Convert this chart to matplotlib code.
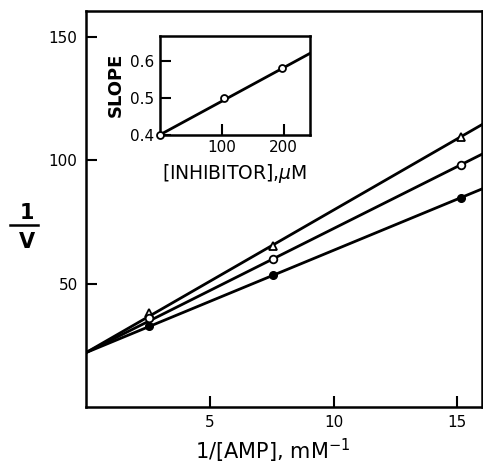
import numpy as np
import matplotlib
matplotlib.use("Agg")
import matplotlib.pyplot as plt

plt.rcParams['font.family'] = ['DejaVu Sans']

# main plot data: 1/[AMP] vs 1/v
amp_inv = [2.55, 7.55, 15.15]
v_inv_tri = [38.0, 65.2, 109.5]
v_inv_open = [36.0, 60.0, 98.2]
v_inv_filled = [32.8, 53.6, 84.8]

# fitted lines at x=0 and x=16
line_x = [0, 16]
line_tri = [22.0, 114.5]
line_open = [22.0, 102.5]
line_filled = [22.0, 88.4]

# inset data: slope vs inhibitor
inhib = [0, 103, 198]
slope = [0.40, 0.50, 0.58]
inset_line_x = [0, 243]
inset_line_y = [0.40, 0.62]

fig = plt.figure(figsize=(4.83, 4.65), dpi=100)
ax = fig.add_axes([0.178, 0.125, 0.82, 0.851])

for ly in [line_tri, line_open, line_filled]:
    ax.plot(line_x, ly, color="black", lw=2)
ax.plot(amp_inv, v_inv_tri, "^", ms=6, mfc="white", mec="black", mew=1.3)
ax.plot(amp_inv, v_inv_open, "o", ms=5.5, mfc="white", mec="black", mew=1.3)
ax.plot(amp_inv, v_inv_filled, "o", ms=5.5, mfc="black", mec="black")

ax.set_xlim(0, 16)
ax.set_ylim(0, 160.5)
ax.set_xticks([5, 10, 15])
ax.set_yticks([50, 100, 150])
ax.tick_params(direction="in", length=8, width=1.5, labelsize=11, pad=6)
for sp in ax.spines.values():
    sp.set_linewidth(1.8)

# axis labels
fig.text(0.565, 0.03, "1/[AMP], mM$^{-1}$", fontsize=15, ha="center", va="center")
fig.text(0.055, 0.542, "1", fontsize=15, ha="center", va="center", fontweight="bold")
fig.text(0.055, 0.48, "V", fontsize=15, ha="center", va="center", fontweight="bold")
fig.add_artist(plt.Line2D([0.021, 0.079], [0.516, 0.516], color="black", lw=1.8))

# inset
ins = fig.add_axes([0.331, 0.71, 0.311, 0.2136])
ins.plot(inset_line_x, inset_line_y, color="black", lw=2)
ins.plot(inhib, slope, "o", ms=5, mfc="white", mec="black", mew=1.3, clip_on=False, zorder=5)
ins.set_xlim(0, 243)
ins.set_ylim(0.4, 0.668)
ins.set_xticks([100, 200])
ins.set_yticks([0.4, 0.5, 0.6])
ins.set_yticklabels(["0.4", "0.5", "0.6"])
ins.tick_params(direction="in", length=8, width=1.5, labelsize=11, pad=4)
for sp in ins.spines.values():
    sp.set_linewidth(1.8)
ins.set_ylabel("SLOPE", fontsize=13, fontweight="bold", labelpad=4)
ins.set_xlabel("[INHIBITOR],$\\mu$M", fontsize=13.5, labelpad=5)

fig.savefig("out.png", dpi=100)
